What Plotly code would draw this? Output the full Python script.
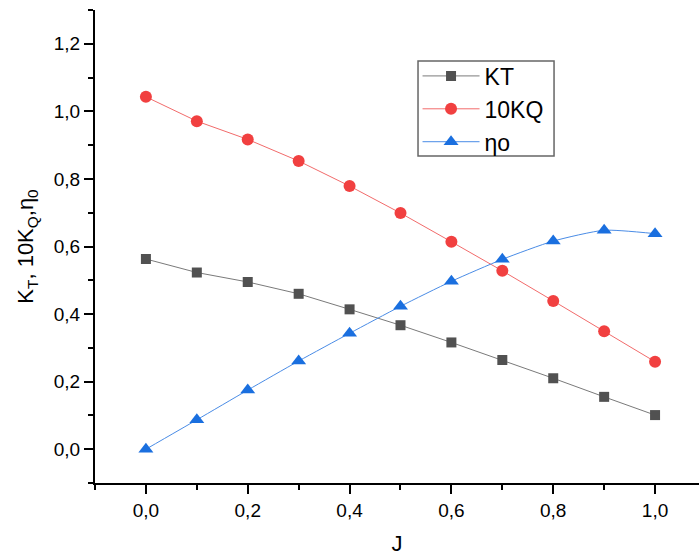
import plotly.graph_objects as go

J = [0.0, 0.1, 0.2, 0.3, 0.4, 0.5, 0.6, 0.7, 0.8, 0.9, 1.0]
KT = [0.563, 0.523, 0.495, 0.460, 0.414, 0.367, 0.316, 0.264, 0.210, 0.155, 0.101]
KQ10 = [1.043, 0.971, 0.917, 0.853, 0.779, 0.699, 0.614, 0.528, 0.439, 0.349, 0.259]
ETA0 = [0.000, 0.087, 0.175, 0.261, 0.343, 0.423, 0.497, 0.562, 0.616, 0.648, 0.638]

FONT = "Arial, Liberation Sans, sans-serif"

fig = go.Figure()
fig.add_trace(go.Scatter(x=J, y=KT, name="KT", mode="lines+markers",
                         line=dict(color="#7a7a7a", width=1),
                         marker=dict(symbol="square", size=10, color="#515151")))
fig.add_trace(go.Scatter(x=J, y=KQ10, name="10KQ", mode="lines+markers",
                         line=dict(color="#f26b6b", width=1),
                         marker=dict(symbol="circle", size=12, color="#F14040")))
fig.add_trace(go.Scatter(x=J, y=ETA0, name="ηo", mode="lines+markers",
                         line=dict(color="#4a8ce6", width=1, shape="spline", smoothing=0.6),
                         marker=dict(symbol="triangle-up", size=13, color="#1A6FDF")))

fig.update_layout(
    width=699, height=556,
    margin=dict(l=95, r=0, t=10, b=73),
    paper_bgcolor="white", plot_bgcolor="white",
    separators=",.",
    font=dict(family=FONT, size=19, color="black"),
    showlegend=True,
    legend=dict(x=0.534, y=0.906, xanchor="left", yanchor="top",
                borderwidth=0, bgcolor="rgba(0,0,0,0)",
                font=dict(family=FONT, size=23, color="black"),
                itemwidth=57, tracegroupgap=0),
    shapes=[dict(type="rect", xref="paper", yref="paper",
                 x0=0.5348, x1=0.760, y0=0.6915, y1=0.892,
                 line=dict(color="#666666", width=1.5), fillcolor="rgba(0,0,0,0)")],
)
fig.update_xaxes(
    range=[-0.1, 1.0863], tick0=0, dtick=0.2, tickformat=".1f",
    showgrid=False, zeroline=False, showline=True, linecolor="black", linewidth=2,
    ticks="outside", ticklen=9, tickwidth=1.5, tickcolor="black",
    minor=dict(dtick=0.1, tick0=0, ticks="outside", ticklen=5, tickwidth=1.5, tickcolor="black", showgrid=False),
    tickfont=dict(size=19),
    title=dict(text="J", font=dict(size=22), standoff=18),
)
fig.update_yaxes(
    range=[-0.1, 1.3], tick0=0, dtick=0.2, tickformat=".1f",
    showgrid=False, zeroline=False, showline=True, linecolor="black", linewidth=2,
    ticks="outside", ticklen=9, tickwidth=1.5, tickcolor="black",
    minor=dict(dtick=0.1, tick0=0, ticks="outside", ticklen=5, tickwidth=1.5, tickcolor="black", showgrid=False),
    tickfont=dict(size=19),
    title=dict(text="K<sub>T</sub>, 10K<sub>Q</sub>,η<sub>0</sub>", font=dict(size=22), standoff=14),
)

fig.write_html("out.html")
